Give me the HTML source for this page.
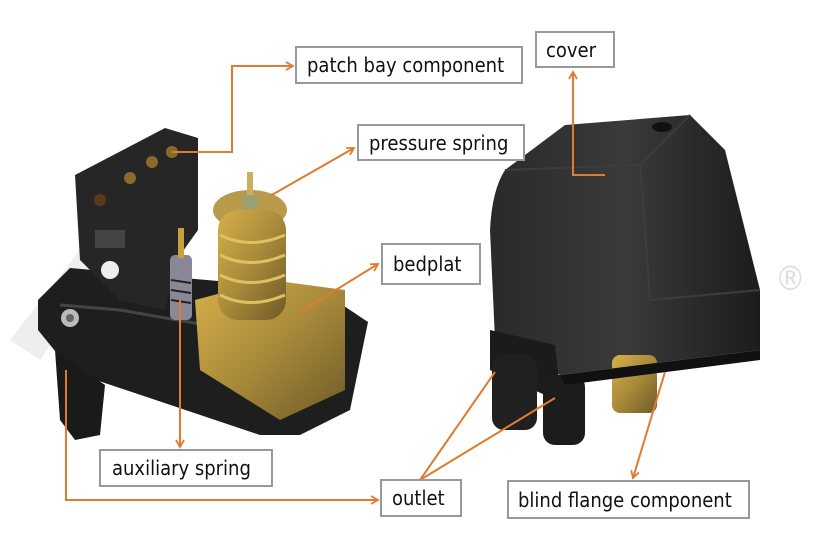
<!DOCTYPE html>
<html><head><meta charset="utf-8"><style>
html,body{margin:0;padding:0;background:#fff;}
svg{display:block;}
text{font-family:"DejaVu Sans Condensed","Liberation Sans",sans-serif;font-size:20px;fill:#111;}
</style></head><body>
<svg width="820" height="545" viewBox="0 0 820 545" xmlns="http://www.w3.org/2000/svg">
<defs>
<marker id="a" markerWidth="10" markerHeight="10" refX="8" refY="5" orient="auto" markerUnits="userSpaceOnUse">
<path d="M1,1 L8,5 L1,9" fill="none" stroke="#e07b30" stroke-width="1.8"/></marker>
<linearGradient id="g1" x1="0" y1="0" x2="1" y2="1"><stop offset="0" stop-color="#d8b04a"/><stop offset="0.5" stop-color="#a88a3a"/><stop offset="1" stop-color="#6f5a28"/></linearGradient>
<linearGradient id="g2" x1="0" y1="0" x2="1" y2="0"><stop offset="0" stop-color="#2a2a2a"/><stop offset="0.5" stop-color="#3a3a3a"/><stop offset="1" stop-color="#1c1c1c"/></linearGradient>
</defs>
<text x="775" y="290" style="font-size:34px;fill:#ddd">®</text>
<path d="M10,340 L80,250 L150,340 L120,360 L80,300 L40,360Z" fill="#eee"/>
<path d="M38,300 L70,268 L320,290 L368,322 L350,410 L300,435 L260,435 L72,372 L38,330Z" fill="#1e1e1e"/>
<path d="M60,305 L120,310 L320,345 L340,330" fill="none" stroke="#444" stroke-width="3"/>
<path d="M55,350 L60,420 L75,440 L100,435 L105,385Z" fill="#1a1a1a"/>
<circle cx="70" cy="318" r="9" fill="#bbb"/><circle cx="70" cy="318" r="4" fill="#666"/>
<path d="M75,175 L165,128 L198,138 L198,230 L178,258 L165,310 L120,300 L80,260Z" fill="#262626"/>
<circle cx="172" cy="152" r="6" fill="#8a6a2a"/><circle cx="152" cy="162" r="6" fill="#8a6a2a"/>
<circle cx="130" cy="178" r="6" fill="#8a6a2a"/><circle cx="100" cy="200" r="6" fill="#5a3a1a"/>
<circle cx="110" cy="270" r="9" fill="#eee"/>
<rect x="95" y="230" width="30" height="18" fill="#444"/>
<path d="M195,300 L270,280 L345,290 L345,390 L280,420 L200,370Z" fill="url(#g1)"/>
<ellipse cx="250" cy="210" rx="37" ry="20" fill="#b89a4a"/>
<rect x="218" y="210" width="68" height="110" rx="20" fill="url(#g1)"/>
<g stroke="#e0c060" stroke-width="3" fill="none">
<path d="M220,235 Q250,250 285,235"/><path d="M220,255 Q250,270 285,255"/><path d="M220,275 Q250,290 285,275"/><path d="M220,295 Q250,310 285,295"/>
</g>
<rect x="247" y="172" width="6" height="32" fill="#c9b060"/>
<rect x="242" y="195" width="16" height="14" fill="#9aa070"/>
<rect x="170" y="255" width="22" height="65" rx="5" fill="#889"/>
<g stroke="#222" stroke-width="2"><line x1="171" y1="280" x2="191" y2="283"/><line x1="171" y1="290" x2="191" y2="293"/><line x1="171" y1="300" x2="191" y2="303"/></g>
<rect x="178" y="228" width="6" height="30" fill="#c9a040"/>
<path d="M505,170 L565,125 L690,115 L725,150 L760,290 L760,350 L560,375 L495,340 L490,230 Q492,190 505,170Z" fill="url(#g2)"/>
<path d="M505,170 L640,165 L690,115" fill="none" stroke="#3d3d3d" stroke-width="2"/>
<path d="M640,165 L650,300 L760,290" fill="none" stroke="#3d3d3d" stroke-width="2"/>
<ellipse cx="662" cy="127" rx="10" ry="5" fill="#111"/>
<path d="M490,330 L555,345 L560,390 L545,395 L490,370Z" fill="#1b1b1b"/>
<rect x="492" y="355" width="45" height="75" rx="12" fill="#202020"/>
<rect x="543" y="375" width="42" height="70" rx="12" fill="#1c1c1c"/>
<rect x="612" y="355" width="45" height="58" rx="8" fill="url(#g1)"/>
<path d="M560,375 L760,350 L760,360 L565,385Z" fill="#111"/>
<g stroke="#e07b30" stroke-width="2" fill="none">
<path d="M172,152 L232,152 L232,66 L293,66" marker-end="url(#a)"/>
<path d="M270,196 L354,148" marker-end="url(#a)"/>
<path d="M300,312 L378,264" marker-end="url(#a)"/>
<path d="M605,175 L573,175 L573,72" marker-end="url(#a)"/>
<path d="M180,300 L180,447" marker-end="url(#a)"/>
<path d="M66,370 L66,500 L378,500" marker-end="url(#a)"/>
<path d="M420,480 L495,372"/>
<path d="M420,480 L555,398"/>
<path d="M665,372 L633,478" marker-end="url(#a)"/>
</g>
<g fill="#fff" stroke="#999" stroke-width="2">
<rect x="296" y="47" width="226" height="36"/>
<rect x="536" y="32" width="78" height="35"/>
<rect x="358" y="125" width="166" height="35"/>
<rect x="382" y="244" width="98" height="40"/>
<rect x="100" y="450" width="172" height="36"/>
<rect x="381" y="480" width="80" height="36"/>
<rect x="508" y="481" width="241" height="37"/>
</g>
<text x="307" y="72">patch bay component</text>
<text x="546" y="57">cover</text>
<text x="369" y="150">pressure spring</text>
<text x="393" y="271">bedplat</text>
<text x="112" y="475">auxiliary spring</text>
<text x="392" y="505">outlet</text>
<text x="518" y="507">blind flange component</text>
</svg>
</body></html>
